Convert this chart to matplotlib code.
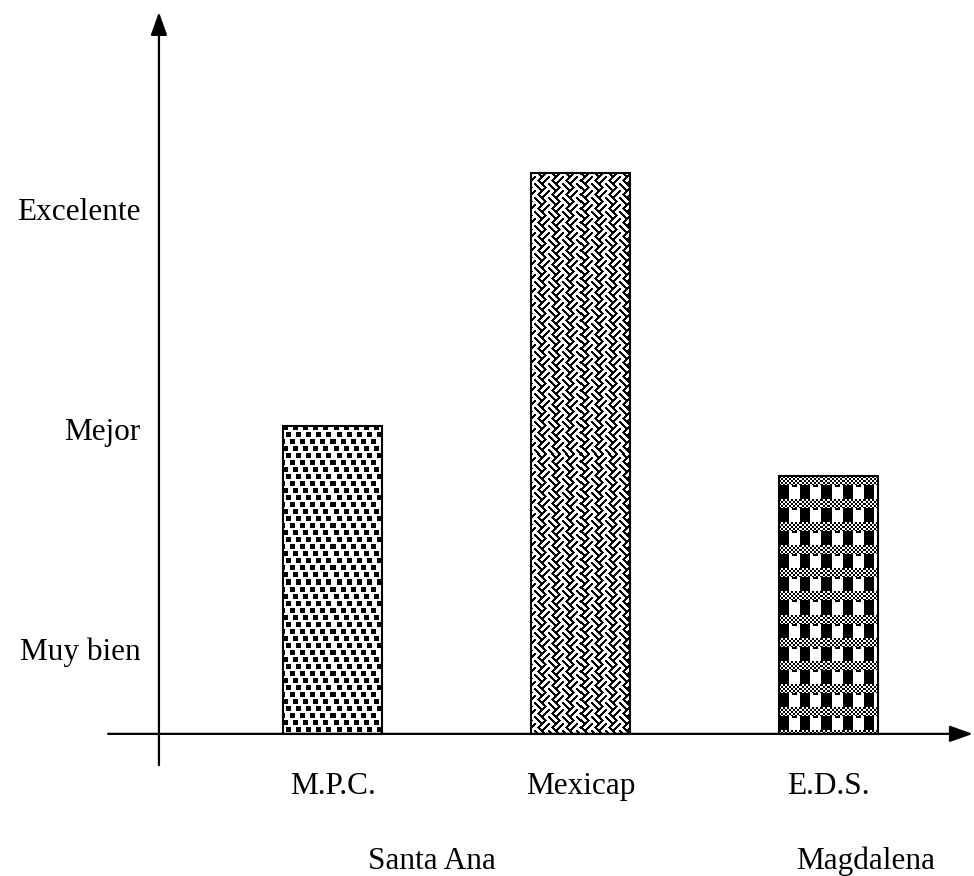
import numpy as np
import matplotlib.pyplot as plt

# ratings: 1 = Muy bien, 2 = Mejor, 3 = Excelente
categories = ["M.P.C.", "Mexicap", "E.D.S."]
ratings = [2.01, 3.16, 1.78]
level_labels = ["Muy bien", "Mejor", "Excelente"]
level_values = [1, 2, 3]
groups = ["Santa Ana", "Magdalena"]
group_pos = [0.4, 2.15]

plt.rcParams['font.family'] = ['Liberation Serif', 'DejaVu Serif']

fig = plt.figure(figsize=(9.74, 8.76), dpi=100)
ax = fig.add_axes([0, 0, 1, 1])
xlim = (-1.341, 2.587)
ylim = (-0.036, 3.945)
ax.set_xlim(*xlim)
ax.set_ylim(*ylim)
ax.axis('off')

base = 0.61
x = np.arange(len(categories))


# fill textures (pixel tiles, 0 = black, 1 = white)
def tile_dots():
    t = np.ones((21, 10))
    shifts = [0, 3, 7]
    for r in range(3):
        y0 = r * 7
        x0 = shifts[r]
        for dy in range(5):
            for dx in range(5):
                t[(y0 + dy) % 21, (x0 + dx) % 10] = 0
    return t


def tile_weave():
    n = 28
    i, j = np.mgrid[0:n, 0:n]
    cell = ((i + j) // 14 + (i - j + n) // 14) % 2
    a = ((i + j) % 7) >= 3
    b = ((i - j + n) % 7) >= 3
    return np.where(cell == 0, a, b).astype(float)


def tile_check():
    t = np.ones((23, 21))
    ii, jj = np.mgrid[0:9, 0:21]
    t[0:9, :] = ((ii // 2 + jj // 2) % 2).astype(float)
    t[9:23, 0:10] = 0
    t[9:23, 10:21] = 1
    t[9:11, 13:18] = 0
    return t


tiles = [tile_dots(), tile_weave(), tile_check()]

bars = ax.bar(x, np.array(ratings) - base, bottom=base, width=0.4,
              facecolor='none', edgecolor='black', linewidth=1.5, zorder=3)

fig.canvas.draw()
for bar, tile in zip(bars, tiles):
    bb = bar.get_window_extent()
    w = int(round(bb.width))
    h = int(round(bb.height))
    reps = (h // tile.shape[0] + 2, w // tile.shape[1] + 2)
    img = np.tile(tile, reps)[:h, :w]
    im = ax.imshow(img, cmap='gray', vmin=0, vmax=1, interpolation='nearest',
                   extent=(bar.get_x(), bar.get_x() + bar.get_width(),
                           bar.get_y(), bar.get_y() + bar.get_height()),
                   aspect='auto', zorder=2)
    im.set_clip_path(bar)

ax.set_xlim(*xlim)
ax.set_ylim(*ylim)

# axes with arrows
ax.annotate('', xy=(2.582, base), xytext=(-0.905, base),
            arrowprops=dict(arrowstyle='-|>,head_length=1.4,head_width=0.5',
                            color='black', lw=1.6, shrinkA=0, shrinkB=0))
ax.annotate('', xy=(-0.70, 3.89), xytext=(-0.70, 0.468),
            arrowprops=dict(arrowstyle='-|>,head_length=1.4,head_width=0.5',
                            color='black', lw=1.6, shrinkA=0, shrinkB=0))

for lab, v in zip(level_labels, level_values):
    ax.text(-0.775, v - 0.02, lab, ha='right', va='center', fontsize=22.5)

for xi, lab in zip(x, categories):
    ax.text(xi, 0.37, lab, ha='center', va='center', fontsize=22.5)

for gp, lab in zip(group_pos, groups):
    ax.text(gp, 0.03, lab, ha='center', va='center', fontsize=22.5)

fig.savefig('out.png', dpi=100)
